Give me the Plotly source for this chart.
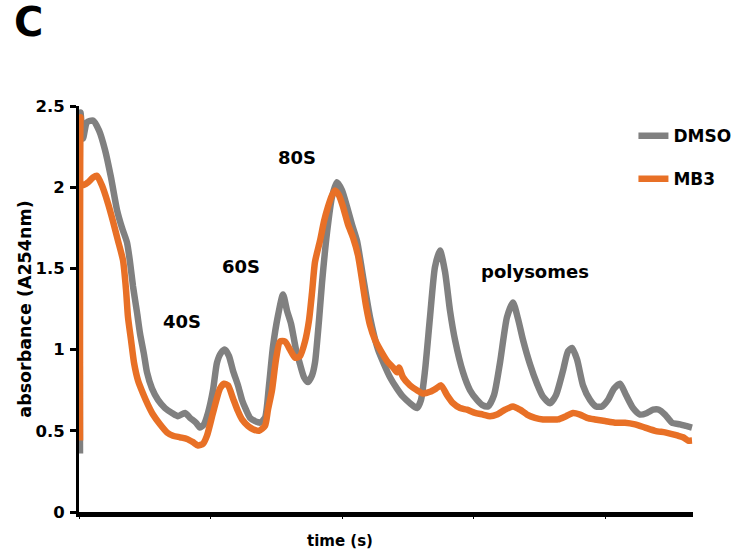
import plotly.graph_objects as go

# Polysome profile: absorbance at 254 nm along the gradient (time axis, arbitrary s)
dmso_time = [1, 1.5, 4, 8, 14, 20, 26, 32, 38, 43, 48, 51, 54, 58, 61, 65, 68, 73, 79, 86,
             93, 99, 106, 111, 117, 121, 125, 129, 134, 138, 142, 146, 150, 154, 159, 163,
             167, 171, 176, 181, 186, 190, 194, 199, 204, 208, 212, 217, 221, 225, 229, 233,
             236, 240, 243, 248, 253, 258, 263, 268, 273, 278, 284, 291, 299, 305, 311, 318,
             324, 331, 338, 342, 346, 351, 356, 361, 366, 371, 376, 384, 391, 398, 403, 409,
             415, 421, 428, 434, 439, 444, 451, 458, 464, 471, 477, 484, 489, 493, 498, 504,
             511, 517, 523, 529, 535, 541, 547, 554, 561, 568, 574, 580, 586, 593, 601, 607,
             613]
dmso_abs = [0.36, 2.46, 2.30, 2.40, 2.41, 2.35, 2.23, 2.06, 1.86, 1.75, 1.66, 1.54, 1.39, 1.23,
            1.10, 0.97, 0.86, 0.76, 0.69, 0.64, 0.61, 0.59, 0.61, 0.58, 0.55, 0.52, 0.54, 0.61,
            0.75, 0.92, 0.98, 1.00, 0.96, 0.87, 0.78, 0.69, 0.63, 0.58, 0.56, 0.55, 0.58, 0.78,
            1.02, 1.21, 1.34, 1.24, 1.16, 1.00, 0.91, 0.83, 0.80, 0.84, 0.92, 1.18, 1.41, 1.72,
            1.94, 2.03, 1.98, 1.88, 1.77, 1.67, 1.45, 1.20, 1.00, 0.91, 0.83, 0.76, 0.71, 0.67,
            0.64, 0.69, 0.87, 1.20, 1.51, 1.61, 1.48, 1.24, 1.06, 0.86, 0.75, 0.69, 0.66, 0.65,
            0.72, 0.92, 1.20, 1.29, 1.19, 1.06, 0.91, 0.79, 0.71, 0.67, 0.72, 0.87, 0.99, 1.01,
            0.94, 0.78, 0.69, 0.65, 0.65, 0.69, 0.76, 0.79, 0.72, 0.64, 0.60, 0.61, 0.63, 0.63,
            0.60, 0.55, 0.54, 0.53, 0.52]

mb3_time = [1, 1.5, 3, 9, 14, 18, 23, 29, 34, 39, 44, 47, 49, 52, 55, 59, 64, 69, 74, 81, 88,
            94, 101, 108, 114, 119, 124, 128, 134, 141, 145, 149, 154, 159, 163, 169, 174, 180,
            186, 189, 193, 197, 201, 206, 211, 216, 221, 226, 230, 233, 236, 241, 245, 249,
            253, 256, 260, 264, 269, 274, 279, 283, 287, 291, 296, 302, 308, 314, 318, 320,
            324, 331, 338, 344, 351, 357, 362, 368, 374, 381, 388, 396, 404, 411, 418, 426,
            434, 441, 448, 456, 464, 471, 479, 487, 494, 501, 508, 516, 526, 536, 546, 556,
            566, 576, 586, 593, 599, 604, 609, 613]
mb3_abs = [0.44, 2.43, 2.01, 2.03, 2.06, 2.07, 2.01, 1.90, 1.79, 1.67, 1.55, 1.37, 1.20, 1.06,
           0.92, 0.81, 0.73, 0.66, 0.60, 0.54, 0.49, 0.47, 0.46, 0.45, 0.43, 0.41, 0.42, 0.47,
           0.61, 0.76, 0.79, 0.78, 0.70, 0.62, 0.57, 0.53, 0.51, 0.50, 0.53, 0.63, 0.75, 0.94,
           1.05, 1.05, 1.00, 0.95, 0.96, 1.05, 1.18, 1.35, 1.54, 1.67, 1.79, 1.88, 1.95, 1.98,
           1.95, 1.88, 1.77, 1.69, 1.58, 1.43, 1.27, 1.15, 1.06, 0.99, 0.93, 0.89, 0.86, 0.89,
           0.83, 0.78, 0.75, 0.73, 0.74, 0.76, 0.78, 0.72, 0.67, 0.64, 0.63, 0.61, 0.60, 0.59,
           0.60, 0.63, 0.65, 0.63, 0.60, 0.58, 0.57, 0.57, 0.57, 0.59, 0.61, 0.60, 0.58, 0.57,
           0.56, 0.55, 0.55, 0.54, 0.52, 0.50, 0.49, 0.48, 0.47, 0.46, 0.44, 0.44]

peak_labels = ["40S", "60S", "80S", "polysomes"]
peak_label_time = [103, 162, 218, 456]
peak_label_abs = [1.17, 1.51, 2.18, 1.48]

y_ticks = [0, 0.5, 1, 1.5, 2, 2.5]
y_tick_text = ["0", "0.5", "1", "1.5", "2", "2.5"]

GRAY = "rgb(128,128,128)"
ORANGE = "rgb(232,112,38)"
FONT = "DejaVu Sans, Arial, sans-serif"


def bold(size):
    return dict(family=FONT, size=size, color="black", weight="bold")


fig = go.Figure()
fig.add_trace(go.Scatter(x=dmso_time, y=dmso_abs, mode="lines", name="DMSO",
                         legendgroup="dmso",
                         line=dict(color=GRAY, width=6.5, shape="spline", smoothing=0.6)))
fig.add_trace(go.Scatter(x=mb3_time, y=mb3_abs, mode="lines", name="MB3",
                         legendgroup="mb3",
                         line=dict(color=ORANGE, width=6.5, shape="spline", smoothing=0.6)))

for txt, t, a in zip(peak_labels, peak_label_time, peak_label_abs):
    fig.add_annotation(x=t, y=a, text=txt, showarrow=False, font=bold(18))

# panel letter and x-axis title
fig.add_annotation(xref="paper", yref="paper", x=-0.083, y=1.207, text="C",
                   xanchor="center", yanchor="middle", showarrow=False, font=bold(40))
fig.add_annotation(xref="paper", yref="paper", x=(340 - 79) / 614, y=-0.072,
                   text="time (s)", xanchor="center", yanchor="middle",
                   showarrow=False, font=bold(15))

fig.update_layout(
    width=731, height=552,
    margin=dict(l=79, r=38, t=106, b=40, autoexpand=False),
    paper_bgcolor="white", plot_bgcolor="white",
    font=dict(family=FONT, color="black"),
    showlegend=True,
    legend=dict(x=0.903, y=0.970, xanchor="left", yanchor="top",
                bgcolor="rgba(0,0,0,0)", tracegroupgap=18,
                font=bold(17), itemwidth=30),
    xaxis=dict(range=[0, 614], showgrid=False, zeroline=False,
               showline=True, linecolor="black", linewidth=5,
               ticks="outside", ticklen=2, tickwidth=1, tickcolor="black",
               tick0=0, dtick=131.5, showticklabels=False),
    yaxis=dict(range=[0, 2.5], showgrid=False, zeroline=False,
               showline=True, linecolor="black", linewidth=3,
               ticks="outside", ticklen=6, tickwidth=3, tickcolor="black",
               tickvals=y_ticks, ticktext=y_tick_text,
               tickfont=bold(16.5), ticklabelstandoff=2,
               title=dict(text="absorbance (A254nm)", standoff=0, font=bold(17.5))),
)

fig.write_html("out.html")
